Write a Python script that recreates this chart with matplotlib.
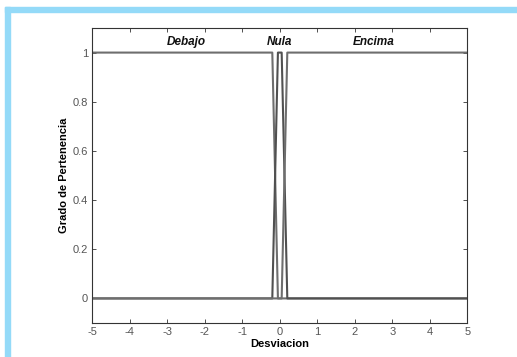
import numpy as np
import matplotlib.pyplot as plt
from matplotlib.patches import Rectangle

# membership functions (trapezoid breakpoints)
x_debajo = [-5, -0.2, -0.05, 5]
y_debajo = [1, 1, 0, 0]
x_nula = [-5, -0.2, -0.05, 0.05, 0.2, 5]
y_nula = [0, 0, 1, 1, 0, 0]
x_encima = [-5, 0.05, 0.2, 5]
y_encima = [0, 0, 1, 1]

labels = ["Debajo", "Nula", "Encima"]
label_x = [-2.5, 0, 2.5]
xticks = np.arange(-5, 6, 1)
yticks = [0, 0.2, 0.4, 0.6, 0.8, 1]

plt.rcParams["font.family"] = ["Liberation Sans", "DejaVu Sans"]

fig = plt.figure(figsize=(5.17, 3.57), dpi=100)
# light blue frame on top and left
blue = "#94daf8"
fig.patches.append(Rectangle((5 / 517, 0), 5 / 517, 1 - 7 / 357,
                             transform=fig.transFigure, color=blue, zorder=0))
fig.patches.append(Rectangle((5 / 517, 1 - 12 / 357), 1, 5 / 357,
                             transform=fig.transFigure, color=blue, zorder=0))

ax = fig.add_axes([92.3 / 517, 1 - 323 / 357, 375 / 517, 295 / 357])
lc = "#6e6e6e"
ax.plot(x_debajo, y_debajo, color=lc, lw=1.5)
ax.plot(x_nula, y_nula, color="#505050", lw=1.5)
ax.plot(x_encima, y_encima, color=lc, lw=1.5)

for t, xx in zip(labels, label_x):
    ax.text(xx, 1.045, t, ha="center", va="center", fontsize=8.5,
            fontweight="bold", fontstyle="italic", color="#111111")

ax.set_xlim(-5, 5)
ax.set_ylim(-0.1, 1.1)
ax.set_xticks(xticks)
ax.set_xticklabels([str(v) for v in xticks])
ax.set_yticks(yticks)
ax.set_yticklabels(["0", "0.2", "0.4", "0.6", "0.8", "1"])
ax.tick_params(direction="in", top=True, right=True, length=3, width=0.6,
               labelsize=8, labelcolor="#555555", color="#333333", pad=3)
for s in ax.spines.values():
    s.set_linewidth(0.8)
    s.set_color("#333333")
ax.set_xlabel("Desviacion", fontsize=8, fontweight="bold", labelpad=1)
ax.set_ylabel("Grado de Pertenencia", fontsize=8, fontweight="bold", labelpad=3)

fig.savefig("out.png", dpi=100)
